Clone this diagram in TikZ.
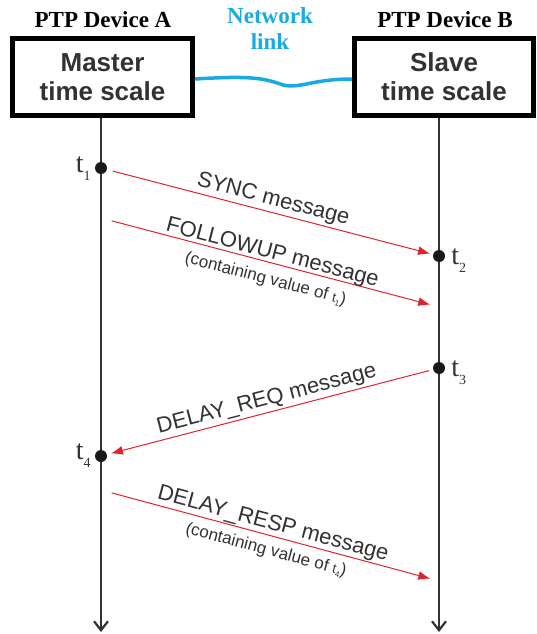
\documentclass[tikz,border=0pt]{standalone}
\usepackage{fontspec}
\setmainfont{Liberation Serif}
\setsansfont{Liberation Sans}
\usepackage{tikz}
\usetikzlibrary{positioning}
\usetikzlibrary{arrows.meta}
\definecolor{myred}{RGB}{225,35,45}
\definecolor{mycyan}{RGB}{25,170,230}
\definecolor{mygray}{RGB}{50,50,50}
\newcommand{\tstamp}[1]{t\raisebox{-0.3em}{\fontsize{14}{14}\selectfont #1}}
\newcommand{\tsmall}[1]{{\fontsize{13}{13}\selectfont t\raisebox{-0.25em}{\fontsize{8}{8}\selectfont #1}}}

\begin{document}
\begin{tikzpicture}[x=1pt,y=-1pt]
	\useasboundingbox (0,0) rectangle (536,634);

	% headers
	\begin{scope}[every node/.style={align=center, font=\bfseries\fontsize{23}{26}\selectfont}]
	    \node (devA) at (103,20) {PTP Device A};
	    \node (devB) at (445,20) {PTP Device B};
	    \node (net) [text=mycyan] at (270,29) {Network\\link};
	\end{scope}

	% clocks
	\begin{scope}[every node/.style={draw=black, line width=5pt, minimum height=77pt, align=center, text=mygray, font=\sffamily\bfseries\fontsize{26}{29}\selectfont}]
	    \node (master) [minimum width=180pt] at (102.5,77) {Master\\time scale};
	    \node (slave) [minimum width=179pt] at (444,77) {Slave\\time scale};
	\end{scope}

	\draw [mycyan, line width=3.5pt] ([yshift=-2pt]master.east) .. controls (245,76) and (262,77) .. (283,85) .. controls (300,89) and (312,79) .. ([yshift=-2pt]slave.west);

	% time lines
	\coordinate (endA) at (101,632);
	\coordinate (endB) at (439,632);
	\begin{scope}[-{Straight Barb[length=9pt,width=14pt]}, line width=2.2pt, mygray]
	    \draw (master.south -| endA) -- (endA);
	    \draw (slave.south -| endB) -- (endB);
	\end{scope}

	\begin{scope}[every node/.style={circle, fill=black!90, inner sep=0pt, minimum size=12pt}]
	    \node (t1) at (101,168) {};
	    \node (t2) at (439,256) {};
	    \node (t3) at (439,368) {};
	    \node (t4) at (101,456) {};
	\end{scope}

	\begin{scope}[every node/.style={inner sep=0pt, text=mygray, font=\fontsize{28}{28}\selectfont}]
	    \node (lab1) [anchor=base east] at ([xshift=-4pt,yshift=-4pt]t1.west) {\tstamp{1}};
	    \node (lab2) [anchor=base west] at ([xshift=6pt,yshift=-8pt]t2.east) {\tstamp{2}};
	    \node (lab3) [anchor=base west] at ([xshift=6pt,yshift=-8pt]t3.east) {\tstamp{3}};
	    \node (lab4) [anchor=base east] at ([xshift=-4pt,yshift=-3pt]t4.west) {\tstamp{4}};
	\end{scope}

	% messages
	\coordinate (fuA) at (101,218);
	\coordinate (fuB) at (439,307);
	\coordinate (rspA) at (101,490);
	\coordinate (rspB) at (439,581);
	\begin{scope}[>={Latex[length=12pt,width=9pt]},
	              every edge/.style={draw=myred, line width=1pt},
	              every node/.style={sloped, inner sep=2pt, text=mygray, font=\sffamily\fontsize{22}{24}\selectfont}]
    	\path [->] (t1) edge[shorten <=6pt, shorten >=3pt] node[above=0pt] {SYNC message} (t2);
    	\path [->] (fuA) edge[shorten <=11pt, shorten >=9pt]
    	    node[above=-3pt] {FOLLOWUP message}
    	    node[below=7pt, font=\sffamily\fontsize{17}{19}\selectfont] {(containing value of \tsmall{1})} (fuB);
    	\path [<-] (t4) edge[shorten <=4pt, shorten >=4pt] node[above=0pt] {DELAY\_REQ message} (t3);
    	\path [->] (rspA) edge[shorten <=11pt, shorten >=9pt]
    	    node[above=-1pt] {DELAY\_RESP message}
    	    node[below=5pt, font=\sffamily\fontsize{17}{19}\selectfont] {(containing value of \tsmall{4})} (rspB);
	\end{scope}
\end{tikzpicture}
\end{document}
